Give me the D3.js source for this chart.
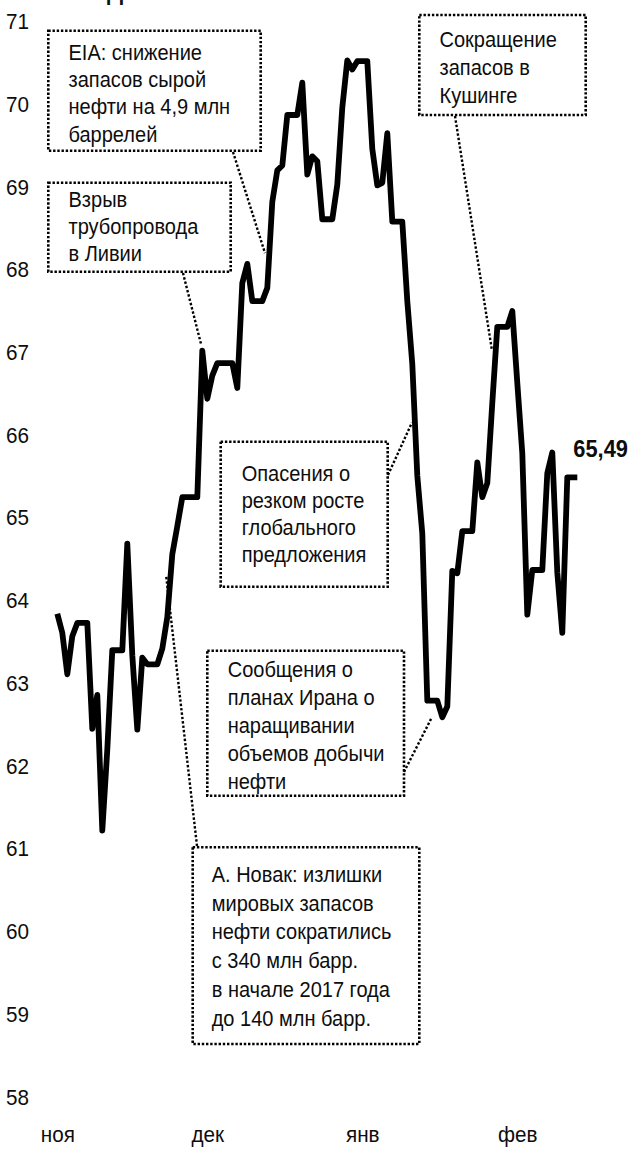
<!DOCTYPE html>
<html lang="ru">
<head>
  <meta charset="UTF-8">
  <title>Brent</title>
  <script src="https://d3js.org/d3.v7.min.js"></script>
  <style>
    html, body {
      margin: 0;
      padding: 0;
      background: #fff;
      overflow: hidden;
    }
    svg {
      display: block;
      font-family: "Liberation Sans", Arial, sans-serif;
    }
    .note-box {
      fill: none;
      stroke: #000;
      stroke-width: 2.6;
      stroke-dasharray: 2.4 1.8;
    }
    .note-link {
      stroke: #000;
      stroke-width: 2.4;
      stroke-dasharray: 2.4 2;
    }
    .note-text {
      font-size: 22px;
      fill: #0d0d0d;
    }
  </style>
</head>
<body>
  <svg></svg>

  <script>
    // daily series, weekends and holidays keep the last close
    const startDay = "2017-11-27";
    const prices = [
      63.84, 63.61, 63.11, 63.57, 63.73, 63.73, 63.73,
      62.45, 62.86, 61.22, 62.20, 63.40, 63.40, 63.40,
      64.69, 63.34, 62.44, 63.31, 63.23, 63.23, 63.23,
      63.42, 63.80, 64.56, 64.90, 65.25, 65.25, 65.25,
      65.25, 67.02, 66.44, 66.72, 66.87, 66.87, 66.87,
      66.87, 66.57, 67.84, 68.07, 67.62, 67.62, 67.62,
      67.78, 68.82, 69.20, 69.26, 69.87, 69.87, 69.87,
      70.26, 69.15, 69.37, 69.31, 68.61, 68.61, 68.61,
      69.03, 69.96, 70.53, 70.42, 70.52, 70.52, 70.52,
      69.46, 69.02, 69.05, 69.65, 68.58, 68.58, 68.58,
      67.62, 66.86, 65.51, 64.81, 62.79, 62.79, 62.79,
      62.59, 62.72, 64.36, 64.33, 64.84, 64.84, 64.84,
      65.67, 65.25, 65.42, 66.39, 67.31, 67.31, 67.31,
      67.50, 66.63, 65.78, 63.83, 64.37, 64.37, 64.37,
      65.54, 65.79, 64.34, 63.61, 65.49, 65.49, 65.49
    ];

    const yTicks = [58, 59, 60, 61, 62, 63, 64, 65, 66, 67, 68, 69, 70, 71];
    const monthTicks = ["2017-11-27", "2017-12-27", "2018-01-27", "2018-02-27"];
    const monthLabels = ["ноя", "дек", "янв", "фев"];

    const noteTexts = [
      ["EIA: снижение", "запасов сырой", "нефти на 4,9 млн", "баррелей"],
      ["Взрыв", "трубопровода", "в Ливии"],
      ["Сокращение", "запасов в", "Кушинге"],
      ["Опасения о", "резком росте", "глобального", "предложения"],
      ["Сообщения о", "планах Ирана о", "наращивании", "объемов добычи", "нефти"],
      ["А. Новак: излишки", "мировых запасов", "нефти сократились", "с 340 млн барр.", "в начале 2017 года", "до 140 млн барр."]
    ];
    // where each note points on the price line
    const noteAnchors = [
      ["2018-01-07 13", 68.2],
      ["2017-12-25 18", 67.1],
      ["2018-02-21 22", 67.03],
      ["2018-02-05 22", 66.15],
      ["2018-02-09 22", 62.59],
      ["2017-12-18 18", 64.31]
    ];

    const width = 641, height = 1153;
    const narrow = 0.91;  // the original type is a condensed face
    const svg = d3.select("svg").attr("width", width).attr("height", height);

    const parseDay = d3.timeParse("%Y-%m-%d");
    const parseHour = d3.timeParse("%Y-%m-%d %H");
    const day0 = parseDay(startDay);
    const data = prices.map((v, i) => ({ date: d3.timeDay.offset(day0, i), value: v }));

    const x = d3.scaleTime()
      .domain(d3.extent(data, d => d.date))
      .range([57.3, 577.3]);
    const y = d3.scaleLinear()
      .domain([58, 71])
      .range([1097, 21.5]);

    // title, mostly cut off by the top edge
    svg.append("text")
      .attr("transform", `translate(107,-0.5) scale(${narrow},1)`)
      .attr("font-size", 25)
      .attr("font-weight", "bold")
      .attr("fill", "#111")
      .text("Динамика");

    const yAxis = svg.append("g")
      .attr("transform", "translate(6,0)")
      .call(d3.axisRight(y).tickValues(yTicks).tickSize(0).tickPadding(0).tickFormat(d3.format("d")));
    yAxis.select(".domain").remove();
    yAxis.selectAll("text")
      .attr("font-size", 22)
      .attr("font-family", "Liberation Sans, Arial, sans-serif")
      .attr("fill", "#0d0d0d")
      .attr("transform", `scale(${narrow + 0.03},1)`);

    const xAxis = svg.append("g")
      .attr("transform", "translate(0,1126)")
      .call(d3.axisBottom(x)
        .tickValues(monthTicks.map(parseDay))
        .tickSize(0).tickPadding(0)
        .tickFormat((d, i) => monthLabels[i]));
    xAxis.select(".domain").remove();
    xAxis.selectAll("text")
      .attr("font-size", 22)
      .attr("font-family", "Liberation Sans, Arial, sans-serif")
      .attr("fill", "#0d0d0d")
      .attr("transform", `scale(${narrow + 0.03},1)`);

    // note boxes: [x, y, w, h, text x, first baseline, line step, link start x, link start y]
    const noteLayout = [
      [48.3, 30.7, 212.4, 120, 68.5, 60, 27.2, 233, 152],
      [48.3, 182.7, 182.4, 89, 68.5, 206.5, 27.2, 183, 273],
      [419.3, 15, 166.4, 100, 439.5, 46.5, 28, 455, 116],
      [220.7, 441.7, 167, 145, 241.7, 481, 27, 388, 475],
      [207.3, 650.7, 196.7, 145, 227.7, 677, 28, 404, 772],
      [192.7, 847.3, 226.6, 196.7, 211.7, 882, 28.7, 197, 846]
    ];

    const notes = svg.append("g");
    noteTexts.forEach((lines, k) => {
      const [bx, by, bw, bh, tx, ty, step, lx, ly] = noteLayout[k];
      const [ad, av] = noteAnchors[k];
      notes.append("line")
        .attr("class", "note-link")
        .attr("x1", lx).attr("y1", ly)
        .attr("x2", x(parseHour(ad))).attr("y2", y(av));
      notes.append("rect")
        .attr("class", "note-box")
        .attr("x", bx).attr("y", by)
        .attr("width", bw).attr("height", bh);
      notes.append("g").selectAll("text")
        .data(lines)
        .join("text")
        .attr("class", "note-text")
        .attr("transform", (d, i) => `translate(${tx},${ty + i * step}) scale(${narrow},1)`)
        .text(d => d);
    });

    const line = d3.line()
      .x(d => x(d.date))
      .y(d => y(d.value));

    svg.append("path")
      .datum(data)
      .attr("fill", "none")
      .attr("stroke", "#000")
      .attr("stroke-width", 5.8)
      .attr("stroke-linejoin", "round")
      .attr("d", line);

    const ru = d3.formatLocale({ decimal: ",", thousands: " ", grouping: [3], currency: ["", ""] });
    const last = data[data.length - 1];
    svg.append("text")
      .attr("transform", `translate(${x(last.date) - 4},${y(last.value) - 20}) scale(${narrow},1)`)
      .attr("font-size", 24)
      .attr("font-weight", "bold")
      .attr("fill", "#0d0d0d")
      .text(ru.format(".2f")(last.value));
  </script>
</body>
</html>
